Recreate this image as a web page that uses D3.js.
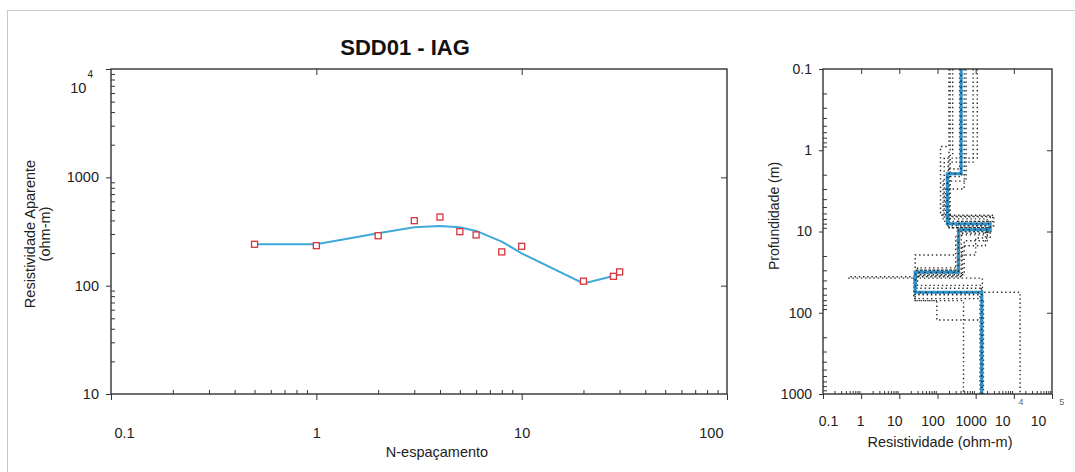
<!DOCTYPE html>
<html>
<head>
<meta charset="utf-8">
<script src="https://cdn.jsdelivr.net/npm/d3@7"></script>
<style>
body { margin: 0; background: #fff; }
svg { display: block; font-family: "Liberation Sans", Arial, sans-serif; }
.tick line { stroke: #333; }
.tick text { fill: #222; }
</style>
</head>
<body>
<svg id="chart" width="1075" height="472"></svg>
<script>
// curva de resistividade aparente (esquerda)
const nSpacing = [0.5, 1, 2, 3, 4, 5, 6, 8, 10, 20, 28, 30];
const rhoObs = [241, 234, 289, 398, 430, 315, 294, 205, 231, 110, 122, 134];
const rhoCalc = [241, 241, 304, 346, 356, 346, 320, 255, 199, 105, 123, 128];
const xTicksLeft = [0.1, 1, 10, 100];
const yTicksLeft = [10, 100, 1000, 10000];

// modelo invertido (direita): resistividade por camada e profundidade da base
const modelRes = [417, 180, 2400, 355, 26, 1450];
const modelDepth = [1.94, 8.0, 9.5, 31.8, 56];

// modelos equivalentes (pontilhados)
const eqRes = [
    [1100, 150, 2400, 340, 25, 1450],
    [860, 190, 2000, 380, 28, 1400],
    [200, 120, 3000, 420, 0.47, 1500],
    [250, 215, 2400, 1000, 26, 480],
    [420, 185, 2500, 330, 26, 96, 1400],
    [430, 175, 2300, 360, 26, 14600],
    [500, 160, 2800, 350, 30, 1400],
    [380, 200, 1800, 450, 24, 1600],
    [560, 140, 2200, 300, 27, 1450],
    [215, 200, 2000, 500, 26, 1300]
];
const eqDepth = [
    [1.25, 6.6, 9.0, 31, 56],
    [1.4, 7.0, 10.5, 33, 58],
    [0.9, 6.3, 8.5, 36, 37.5],
    [1.1, 8.0, 12, 19.5, 71],
    [1.9, 8.0, 10, 30, 71, 123],
    [2.1, 8.5, 10, 32, 56],
    [3.0, 6.5, 7.5, 28, 46],
    [1.7, 9, 15, 35, 67],
    [2.4, 7.5, 11, 30, 50],
    [1.0, 9.0, 13, 34, 60]
];
const xTicksRight = [0.1, 1, 10, 100, 1000, 1e4, 1e5];
const yTicksRight = [0.1, 1, 10, 100, 1000];

const svg = d3.select('#chart');

// moldura cinza da figura
svg.append('rect')
    .attr('x', 7.5).attr('y', 10.5)
    .attr('width', 1200).attr('height', 600)
    .attr('fill', 'none').attr('stroke', '#c8c8c8');

// ticks secundarios de cada decada
const minors = ticks => {
    const out = [];
    ticks.slice(0, -1).forEach(t => {
        for (let k = 2; k <= 9; k++) out.push(t * k);
    });
    return out;
};
const noDomain = g => g.select('.domain').remove();

// ---------- grafico da esquerda ----------
const xL = d3.scaleLog().domain([0.1, 100]).range([111, 727]);
const yL = d3.scaleLog().domain([10, 10000]).range([394, 69]);

const left = svg.append('g');

// eixo inferior
left.append('g')
    .attr('transform', 'translate(0,394)')
    .call(d3.axisBottom(xL).tickValues(minors(xTicksLeft)).tickSize(-4).tickFormat(''))
    .call(noDomain);
const bottomL = left.append('g')
    .attr('transform', 'translate(0,394)')
    .call(d3.axisBottom(xL).tickValues(xTicksLeft).tickSize(6).tickFormat(d => d3.format('~g')(d)))
    .call(noDomain);
bottomL.selectAll('text')
    .attr('y', 34)
    .style('font-size', '14.5px')
    .attr('text-anchor', (d, i) => i === 0 ? 'start' : (i === xTicksLeft.length - 1 ? 'end' : 'middle'))
    .attr('dx', (d, i) => i === 0 ? 3 : (i === xTicksLeft.length - 1 ? -4 : 0));

// eixo esquerdo
left.append('g')
    .attr('transform', 'translate(111,0)')
    .call(d3.axisLeft(yL).tickValues(minors(yTicksLeft)).tickSize(-4).tickFormat(''))
    .call(noDomain);
const leftAxis = left.append('g')
    .attr('transform', 'translate(111,0)')
    .call(d3.axisLeft(yL).tickValues(yTicksLeft).tickSize(5).tickPadding(7).tickFormat(d => d))
    .call(noDomain);
leftAxis.selectAll('text').style('font-size', '14.5px');
leftAxis.selectAll('text').filter(d => d === 10000)
    .text('10').attr('y', 19).attr('dx', -6)
    .append('tspan').attr('dx', 1).attr('dy', -15).style('font-size', '10px').text('4');

// eixo superior e direito (so ticks principais internos)
left.append('g')
    .attr('transform', 'translate(0,69)')
    .call(d3.axisTop(xL).tickValues([1, 10]).tickSize(-6).tickFormat(''))
    .call(noDomain);
left.append('g')
    .attr('transform', 'translate(727,0)')
    .call(d3.axisRight(yL).tickValues([100, 1000]).tickSize(-6).tickFormat(''))
    .call(noDomain);

left.append('rect')
    .attr('x', xL(0.1)).attr('y', yL(10000))
    .attr('width', xL(100) - xL(0.1)).attr('height', yL(10) - yL(10000))
    .attr('fill', 'none').attr('stroke', '#333').attr('stroke-width', 1.4);

// curva calculada
left.append('path')
    .datum(nSpacing.map((n, i) => [n, rhoCalc[i]]))
    .attr('fill', 'none').attr('stroke', '#3fa9d8').attr('stroke-width', 2)
    .attr('d', d3.line().x(d => xL(d[0])).y(d => yL(d[1])));

// dados observados
left.selectAll('rect.obs')
    .data(nSpacing.map((n, i) => [n, rhoObs[i]]))
    .enter().append('rect')
    .attr('class', 'obs')
    .attr('x', d => xL(d[0]) - 3).attr('y', d => yL(d[1]) - 3)
    .attr('width', 6).attr('height', 6)
    .attr('fill', '#fff').attr('stroke', '#d8343c').attr('stroke-width', 1.3);

svg.append('text')
    .attr('x', 405).attr('y', 55)
    .attr('text-anchor', 'middle')
    .style('font-size', '22px').style('font-weight', 'bold').attr('fill', '#111')
    .text('SDD01 - IAG');

svg.append('text')
    .attr('x', 437).attr('y', 457)
    .attr('text-anchor', 'middle').style('font-size', '14.5px').attr('fill', '#222')
    .text('N-espaçamento');

const yLab = svg.append('text')
    .attr('transform', 'translate(35,234) rotate(-90)')
    .attr('text-anchor', 'middle').style('font-size', '14.5px').attr('fill', '#222');
yLab.append('tspan').attr('x', 0).attr('dy', 0).text('Resistividade Aparente');
yLab.append('tspan').attr('x', 0).attr('dy', 15).text('(ohm-m)');

// ---------- grafico da direita ----------
const xR = d3.scaleLog().domain([0.1, 1e5]).range([823, 1052]);
const yR = d3.scaleLog().domain([0.1, 1000]).range([69, 394]);

const right = svg.append('g');

right.append('g')
    .attr('transform', 'translate(0,394)')
    .call(d3.axisBottom(xR).tickValues(minors(xTicksRight)).tickSize(-3).tickFormat(''))
    .call(noDomain);
const bottomR = right.append('g')
    .attr('transform', 'translate(0,394)')
    .call(d3.axisBottom(xR).tickValues(xTicksRight).tickSize(5).tickFormat(d => d3.format('~g')(d)))
    .call(noDomain);
bottomR.selectAll('text')
    .attr('y', 22.5)
    .style('font-size', '14px')
    .attr('dx', d => d === 0.1 ? 5 : (d === 1 ? -1 : -5));
const supDx = { 10000: 8, 100000: 13 };
bottomR.selectAll('text').filter(d => d >= 1e4)
    .text('10')
    .append('tspan')
    .attr('dx', d => supDx[d]).attr('dy', -21)
    .style('font-size', '9px').attr('fill', '#666').text(d => Math.round(Math.log10(d)));

right.append('g')
    .attr('transform', 'translate(823,0)')
    .call(d3.axisLeft(yR).tickValues(minors(yTicksRight)).tickSize(-4).tickFormat(''))
    .call(noDomain);
const leftR = right.append('g')
    .attr('transform', 'translate(823,0)')
    .call(d3.axisLeft(yR).tickValues(yTicksRight).tickSize(4).tickPadding(7).tickFormat(d => d3.format('~g')(d)))
    .call(noDomain);
leftR.selectAll('text').style('font-size', '14px');

right.append('g')
    .attr('transform', 'translate(0,69)')
    .call(d3.axisTop(xR).tickValues([1, 10, 100, 1000, 1e4]).tickSize(-5).tickFormat(''))
    .call(noDomain);
right.append('g')
    .attr('transform', 'translate(1052,0)')
    .call(d3.axisRight(yR).tickValues([1, 10, 100]).tickSize(-5).tickFormat(''))
    .call(noDomain);

svg.append('defs').append('clipPath').attr('id', 'clipR')
    .append('rect')
    .attr('x', xR(0.1)).attr('y', yR(0.1))
    .attr('width', xR(1e5) - xR(0.1)).attr('height', yR(1000) - yR(0.1));

// perfil em degraus de um modelo de camadas
const steps = (res, depth) => {
    const pts = [[res[0], 0.1]];
    depth.forEach((d, i) => {
        pts.push([res[i], d]);
        pts.push([res[i + 1], d]);
    });
    pts.push([res[res.length - 1], 1000]);
    return pts;
};
const stepLine = d3.line().x(d => xR(d[0])).y(d => yR(d[1]));

const models = right.append('g').attr('clip-path', 'url(#clipR)');

models.selectAll('path.eq')
    .data(eqRes.map((r, i) => steps(r, eqDepth[i])))
    .enter().append('path')
    .attr('class', 'eq')
    .attr('fill', 'none').attr('stroke', '#2a2a2a')
    .attr('stroke-width', 1.4).attr('stroke-dasharray', '1.4 2.8')
    .attr('d', stepLine);

models.append('path')
    .datum(steps(modelRes, modelDepth))
    .attr('fill', 'none').attr('stroke', '#2b92cc').attr('stroke-width', 3)
    .attr('d', stepLine);

// pontos escuros sobre o modelo principal
models.append('path')
    .datum(steps(modelRes, modelDepth))
    .attr('fill', 'none').attr('stroke', '#1a1a1a')
    .attr('stroke-width', 1.3).attr('stroke-dasharray', '1.3 4.5')
    .attr('d', stepLine);

right.append('rect')
    .attr('x', xR(0.1)).attr('y', yR(0.1))
    .attr('width', xR(1e5) - xR(0.1)).attr('height', yR(1000) - yR(0.1))
    .attr('fill', 'none').attr('stroke', '#333').attr('stroke-width', 1.4);

svg.append('text')
    .attr('x', 940).attr('y', 447)
    .attr('text-anchor', 'middle').style('font-size', '14.5px').attr('fill', '#222')
    .text('Resistividade (ohm-m)');

svg.append('text')
    .attr('transform', 'translate(779,216) rotate(-90)')
    .attr('text-anchor', 'middle').style('font-size', '14px').attr('fill', '#222')
    .text('Profundidade (m)');
</script>
</body>
</html>
